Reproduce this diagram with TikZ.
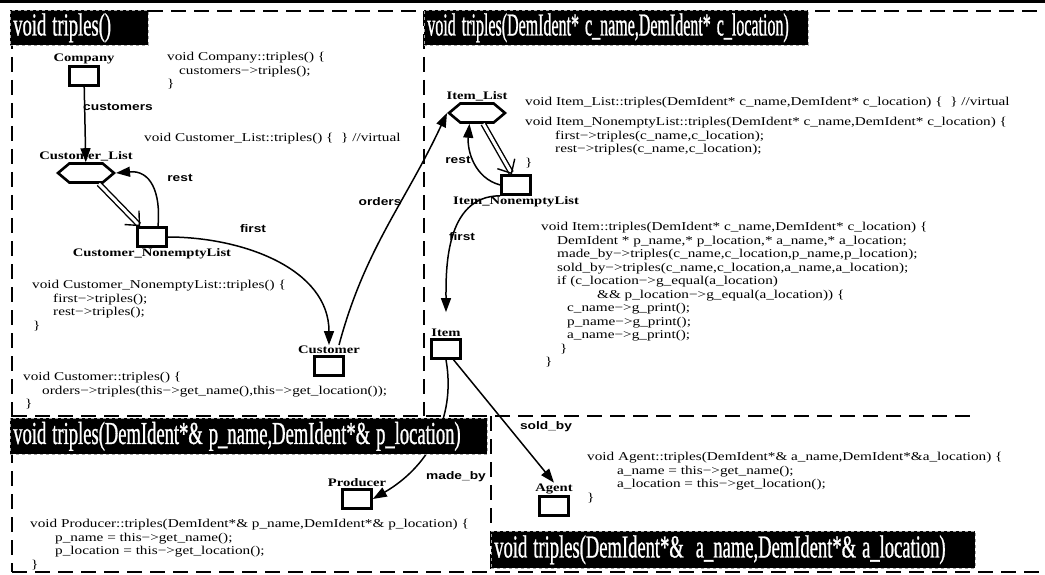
\documentclass[tikz,border=0pt]{standalone}
\usepackage{fontspec}
\setmainfont{Liberation Serif}
\newfontfamily\codefont{Liberation Serif}[FakeStretch=1.27]
\newfontfamily\rolefont{Liberation Sans}[FakeStretch=1.25]
\newfontfamily\titlefont{Liberation Serif}[FakeStretch=0.58, FakeBold=0.8]
\newfontfamily\titlefontnarrow{Liberation Serif}[FakeStretch=0.5, FakeBold=0.8]
\newcommand\tsp{\hspace{6pt}}
\usetikzlibrary{arrows.meta,positioning,shapes.symbols}

\begin{document}
\begin{tikzpicture}[
  x=1pt, y=1pt,
  >={Triangle[length=14pt,width=10pt]},
  obj/.style={draw, line width=2.6pt, minimum width=29pt, minimum height=19pt,
    inner sep=0pt},
  coll/.style={signal, signal to=west and east, signal pointer angle=80, draw,
    line width=2.6pt, minimum width=56pt, minimum height=19pt, inner sep=0pt},
  objname/.style={font=\codefont\bfseries\fontsize{11.5}{12}\selectfont,
    inner sep=1pt},
  arrow/.style={->, line width=1.5pt},
  part/.style={double, double distance=3pt, line width=1.4pt,
    -{Straight Barb[length=11pt,width=20pt]}},
  role/.style={font=\rolefont\bfseries\fontsize{11}{12}\selectfont},
  code/.style={anchor=north west, align=left, inner sep=0pt,
    font=\codefont\fontsize{12}{13.5}\selectfont},
  title/.style={anchor=north west, fill=black, draw=black!35, dashed,
    line width=.6pt, text=white, align=left, inner xsep=3pt, inner ysep=0pt,
    minimum height=35pt, font=\titlefont\fontsize{32}{34}\selectfont},
  region/.style={line width=1.6pt, dash pattern=on 15pt off 8pt}
]
  \useasboundingbox (0,0) rectangle (1045,-575);

  \draw[line width=3pt] (0,-1.5) -- (1045,-1.5);
  \draw[region] (10,-11) -- (1045,-11);
  \draw[region] (12,-11) -- (12,-572);
  \draw[region] (424,-11) -- (424,-416);
  \draw[region] (12,-416) -- (975,-416);
  \draw[region] (491,-416) -- (491,-572);
  \draw[region] (12,-572) -- (1045,-572);

  \node[obj, label={[objname, name=company-name]above:Company}] (company) at (84,-76) {};
  \node[coll, label={[objname, name=custlist-name]above:Customer\_List}] (custlist) at (86,-173) {};
  \node[obj, label={[objname, name=custne-name]below:Customer\_NonemptyList}] (custne) at (152,-237) {};
  \node[obj, label={[objname, name=customer-name]above:Customer}] (customer) at (329,-366) {};
  \node[coll, label={[objname, name=itemlist-name]above:Item\_List}] (itemlist) at (477,-113) {};
  \node[obj, label={[objname, name=itemne-name]below:Item\_NonemptyList}] (itemne) at (516,-185) {};
  \node[obj, label={[objname, name=item-name]above:Item}] (item) at (446,-349) {};
  \node[obj, label={[objname, name=producer-name]above:Producer}] (producer) at (357,-499) {};
  \node[obj, label={[objname, name=agent-name]above:Agent}] (agent) at (554,-506) {};

  \draw[arrow] (company) -- (custlist);
  \draw[part] (custlist.-40) -- ([xshift=4pt]custne.north west);
  \draw[arrow] ([xshift=6pt]custne.north) to[out=85, in=5, looseness=1.3] (custlist.east);
  \draw[arrow] (custne.east) to[out=0, in=90] (customer-name.north);
  \draw[arrow] ([xshift=10pt]customer-name.north) to[out=75, in=-115] (itemlist.west);
  \draw[part] (itemlist.-60) -- ([xshift=-4pt]itemne.north);
  \draw[arrow] (itemne.west) to[out=165, in=-95] (itemlist.-125);
  \draw[arrow, shorten >=16pt] (itemne.south west) to[out=180, in=90] (item-name.north);
  \draw[arrow] (item.south) to[out=-80, in=30] (producer.east);
  \draw[arrow] (item.-55) -- (agent-name.north);

  \node[role] (customers-lbl) at (118,-107) {customers};
  \node[role] (rest-lbl) at (180,-178) {rest};
  \node[role] (first-lbl) at (253,-229) {first};
  \node[role] (orders-lbl) at (380,-202) {orders};
  \node[role] (rest2-lbl) at (458,-160) {rest};
  \node[role] (first2-lbl) at (462,-237) {first};
  \node[role] (madeby-lbl) at (456,-477) {made\_by};
  \node[role] (soldby-lbl) at (546,-427) {sold\_by};

  \node[title, text width=132pt] (t-triples) at (10,-10) {\mbox{void\tsp triples()}};
  \node[title, text width=378pt, font=\titlefontnarrow\fontsize{32}{34}\selectfont]
    (t-customer) at (424,-10)
    {\mbox{void\tsp triples(DemIdent*\tsp c\_name,DemIdent*\tsp c\_location)}};
  \node[title, text width=471pt, minimum height=36pt] (t-producer) at (10,-418)
    {\mbox{void\tsp triples(DemIdent*\&\tsp p\_name,DemIdent*\&\tsp p\_location)}};
  \node[title, text width=478pt, minimum height=37pt] (t-agent) at (491,-531)
    {\mbox{void\tsp triples(DemIdent*\&\tsp\tsp a\_name,DemIdent*\&\tsp a\_location)}};

  \node[code] (company-code) at (167,-52) {void Company::triples() \{\\
    \hspace*{12pt}customers−>triples();\\
    \}};
  \node[code] (custlist-code) at (144,-133) {void Customer\_List::triples() \{~~\} //virtual};
  \node[code] (custne-code) at (32,-280) {void Customer\_NonemptyList::triples() \{\\
    \hspace*{21pt}first−>triples();\\
    \hspace*{21pt}rest−>triples();\\
    \hspace*{1pt}\}};
  \node[code] (customer-code) at (23,-372) {void Customer::triples() \{\\
    \hspace*{19pt}orders−>triples(this−>get\_name(),this−>get\_location());\\
    \hspace*{2pt}\}};
  \node[code] (itemlist-code) at (525,-97)
    {void Item\_List::triples(DemIdent* c\_name,DemIdent* c\_location) \{~~\} //virtual};
  \node[code] (itemne-code) at (525,-117)
    {void Item\_NonemptyList::triples(DemIdent* c\_name,DemIdent* c\_location) \{\\
    \hspace*{30pt}first−>triples(c\_name,c\_location);\\
    \hspace*{30pt}rest−>triples(c\_name,c\_location);\\
    \}};
  \node[code] (item-code) at (541,-222)
    {void Item::triples(DemIdent* c\_name,DemIdent* c\_location) \{\\
    \hspace*{16pt}DemIdent * p\_name,* p\_location,* a\_name,* a\_location;\\
    \hspace*{16pt}made\_by−>triples(c\_name,c\_location,p\_name,p\_location);\\
    \hspace*{16pt}sold\_by−>triples(c\_name,c\_location,a\_name,a\_location);\\
    \hspace*{16pt}if (c\_location−>g\_equal(a\_location)\\
    \hspace*{56pt}\&\& p\_location−>g\_equal(a\_location)) \{\\
    \hspace*{26pt}c\_name−>g\_print();\\
    \hspace*{26pt}p\_name−>g\_print();\\
    \hspace*{26pt}a\_name−>g\_print();\\
    \hspace*{19pt}\}\\
    \hspace*{4pt}\}};
  \node[code] (producer-code) at (30,-519)
    {void Producer::triples(DemIdent*\& p\_name,DemIdent*\& p\_location) \{\\
    \hspace*{25pt}p\_name = this−>get\_name();\\
    \hspace*{25pt}p\_location = this−>get\_location();\\
    \hspace*{1pt}\}};
  \node[code] (agent-code) at (587,-452)
    {void Agent::triples(DemIdent*\& a\_name,DemIdent*\&a\_location) \{\\
    \hspace*{30pt}a\_name = this−>get\_name();\\
    \hspace*{30pt}a\_location = this−>get\_location();\\
    \}};
\end{tikzpicture}
\end{document}
